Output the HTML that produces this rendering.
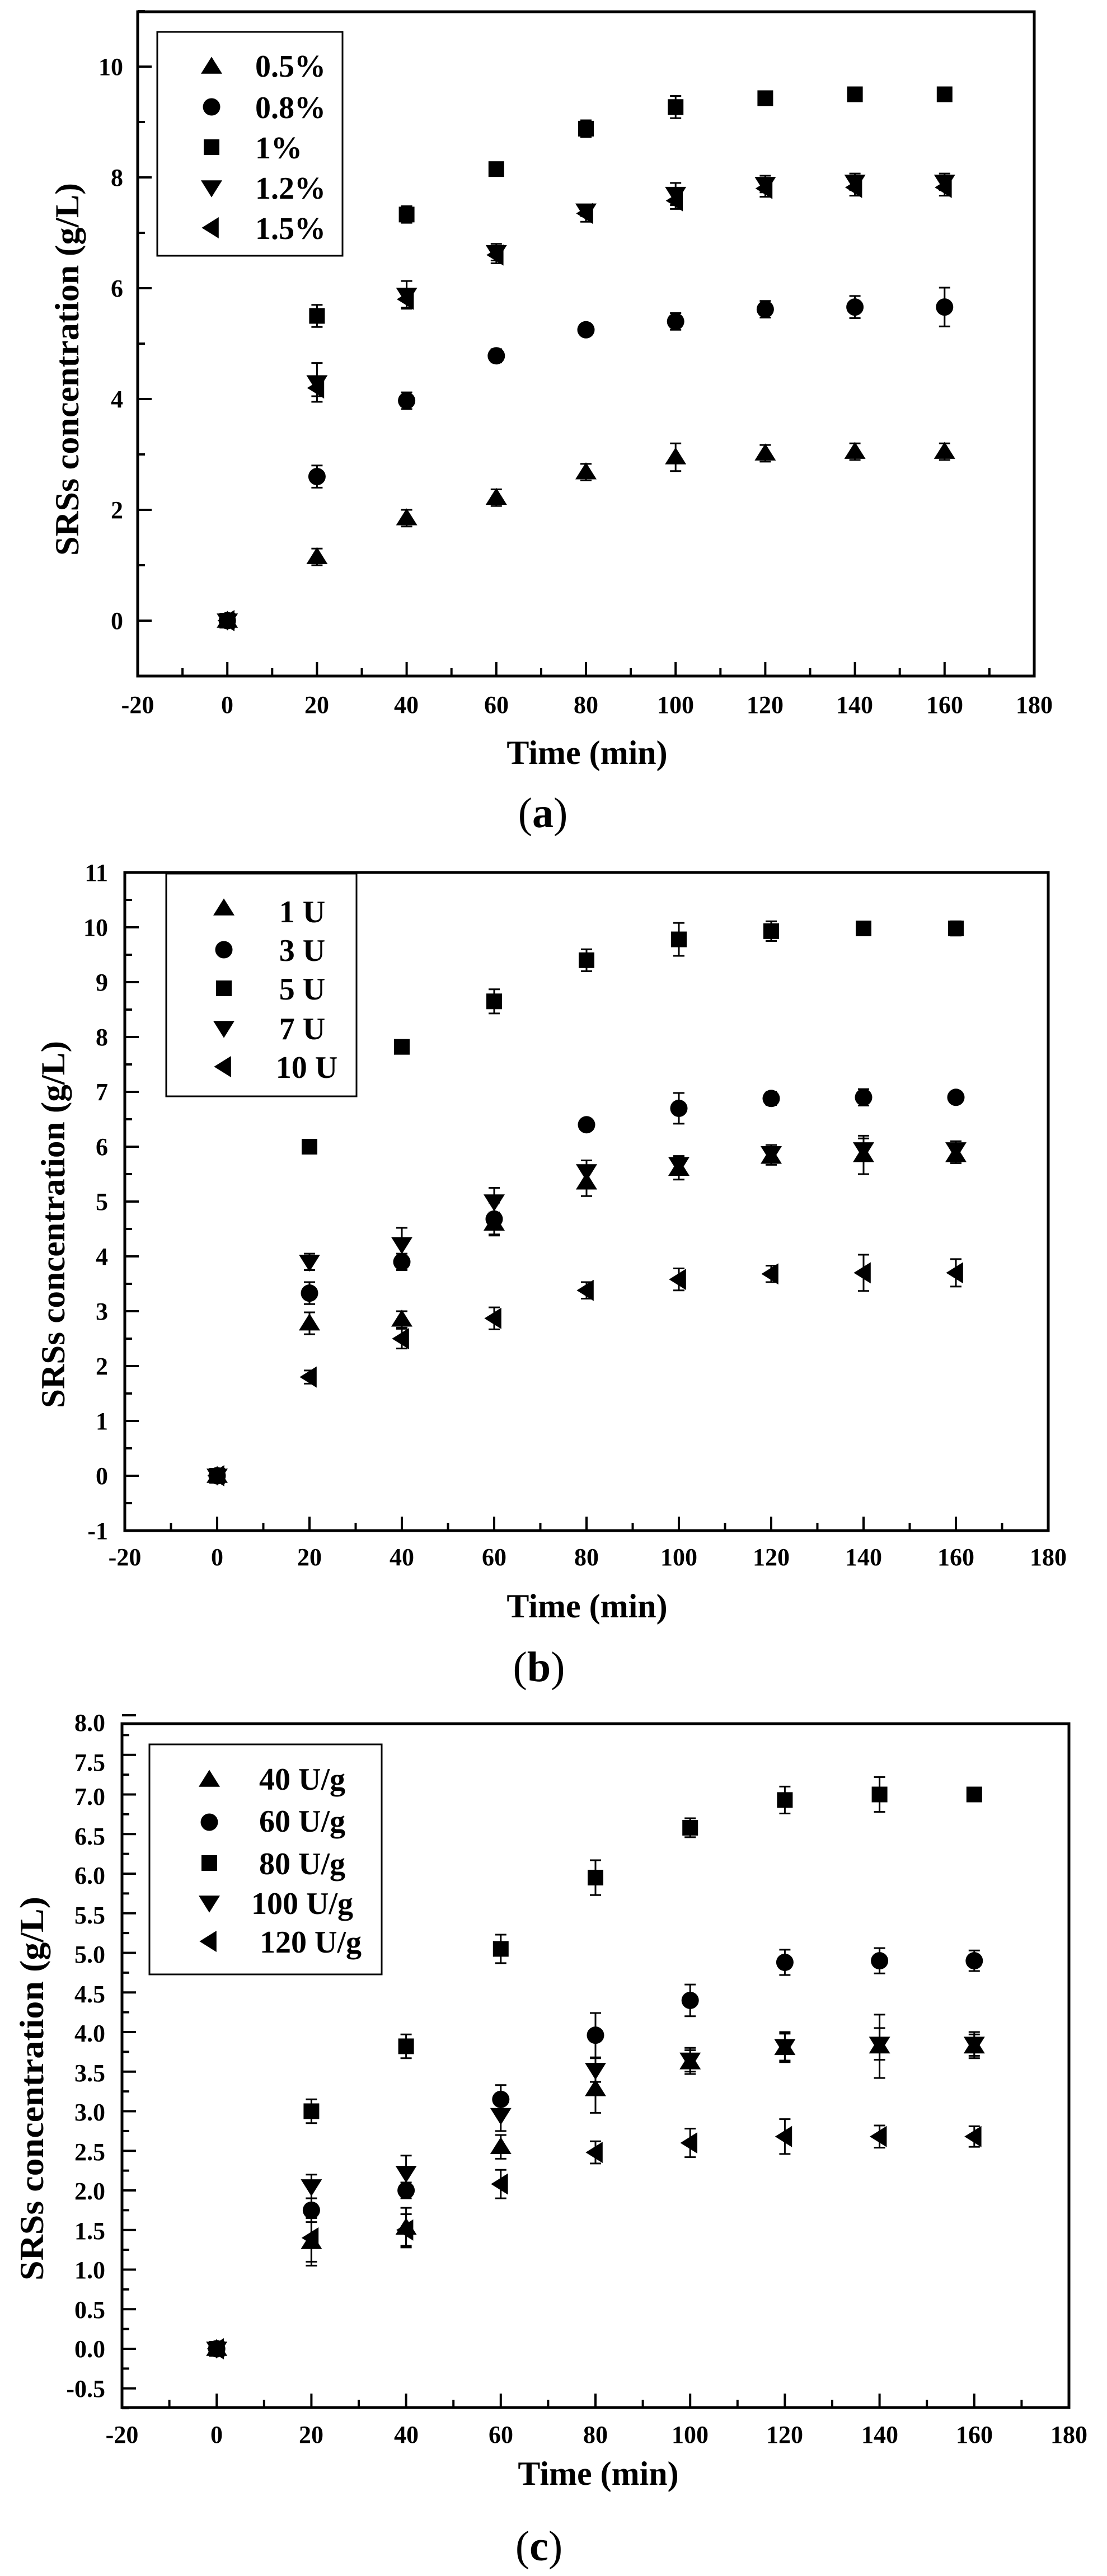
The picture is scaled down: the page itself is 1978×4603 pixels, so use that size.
<!DOCTYPE html>
<html><head><meta charset="utf-8">
<style>
html,body{margin:0;padding:0;background:#fff;}
svg{display:block;}
text{font-family:"Liberation Serif",serif;font-weight:bold;fill:#000;}
.t{font-size:44px;}
.lg{font-size:56px;}
.ax{font-size:60px;}
.cap{font-size:76px;font-weight:normal;}
</style></head>
<body>
<svg id="s" width="1978" height="4603" viewBox="0 0 1978 4603" xmlns="http://www.w3.org/2000/svg">
<rect width="1978" height="4603" fill="#fff"/>
<g id="plots"></g>

<!-- Panel a texts -->
<g class="t" text-anchor="end">
<text x="220" y="1124">0</text><text x="220" y="926">2</text><text x="220" y="728">4</text>
<text x="220" y="530">6</text><text x="220" y="332">8</text><text x="220" y="134">10</text>
</g>
<g class="t" text-anchor="middle">
<text x="246" y="1274">-20</text><text x="406" y="1274">0</text><text x="566" y="1274">20</text>
<text x="726" y="1274">40</text><text x="887" y="1274">60</text><text x="1047" y="1274">80</text>
<text x="1207" y="1274">100</text><text x="1367" y="1274">120</text><text x="1527" y="1274">140</text>
<text x="1688" y="1274">160</text><text x="1848" y="1274">180</text>
</g>
<text class="ax" x="1049" y="1365" text-anchor="middle">Time (min)</text>
<text class="ax" transform="translate(140,660) rotate(-90)" text-anchor="middle" textLength="666" lengthAdjust="spacingAndGlyphs">SRSs concentration (g/L)</text>
<text class="cap" x="970" y="1478" text-anchor="middle">(<tspan font-weight="bold">a</tspan>)</text>
<g class="lg">
<text x="456" y="137">0.5%</text><text x="456" y="211">0.8%</text><text x="456" y="283">1%</text>
<text x="456" y="355">1.2%</text><text x="456" y="427">1.5%</text>
</g>

<!-- Panel b texts -->
<g class="t" text-anchor="end">
<text x="193" y="2750">-1</text><text x="193" y="2652">0</text><text x="193" y="2554">1</text>
<text x="193" y="2456">2</text><text x="193" y="2358">3</text><text x="193" y="2260">4</text>
<text x="193" y="2162">5</text><text x="193" y="2064">6</text><text x="193" y="1966">7</text>
<text x="193" y="1868">8</text><text x="193" y="1770">9</text><text x="193" y="1672">10</text>
<text x="193" y="1574">11</text>
</g>
<g class="t" text-anchor="middle">
<text x="223" y="2797">-20</text><text x="388" y="2797">0</text><text x="553" y="2797">20</text>
<text x="718" y="2797">40</text><text x="883" y="2797">60</text><text x="1048" y="2797">80</text>
<text x="1213" y="2797">100</text><text x="1378" y="2797">120</text><text x="1543" y="2797">140</text>
<text x="1708" y="2797">160</text><text x="1873" y="2797">180</text>
</g>
<text class="ax" x="1049" y="2890" text-anchor="middle">Time (min)</text>
<text class="ax" transform="translate(115,2188) rotate(-90)" text-anchor="middle" textLength="656" lengthAdjust="spacingAndGlyphs">SRSs concentration (g/L)</text>
<text class="cap" x="963" y="3004" text-anchor="middle">(<tspan font-weight="bold">b</tspan>)</text>
<g class="lg" text-anchor="middle">
<text x="540" y="1648">1 U</text><text x="540" y="1717">3 U</text><text x="540" y="1786">5 U</text>
<text x="540" y="1857">7 U</text><text x="548" y="1926">10 U</text>
</g>

<!-- Panel c texts -->
<g class="t" text-anchor="end">
<text x="188" y="4283">-0.5</text><text x="188" y="4212">0.0</text><text x="188" y="4142">0.5</text>
<text x="188" y="4071">1.0</text><text x="188" y="4001">1.5</text><text x="188" y="3930">2.0</text>
<text x="188" y="3860">2.5</text><text x="188" y="3789">3.0</text><text x="188" y="3719">3.5</text>
<text x="188" y="3648">4.0</text><text x="188" y="3578">4.5</text><text x="188" y="3507">5.0</text>
<text x="188" y="3437">5.5</text><text x="188" y="3366">6.0</text><text x="188" y="3296">6.5</text>
<text x="188" y="3225">7.0</text><text x="188" y="3164">7.5</text><text x="188" y="3093">8.0</text>
</g>
<g class="t" text-anchor="middle">
<text x="218" y="4365">-20</text><text x="387" y="4365">0</text><text x="556" y="4365">20</text>
<text x="726" y="4365">40</text><text x="895" y="4365">60</text><text x="1064" y="4365">80</text>
<text x="1233" y="4365">100</text><text x="1402" y="4365">120</text><text x="1572" y="4365">140</text>
<text x="1741" y="4365">160</text><text x="1910" y="4365">180</text>
</g>
<text class="ax" x="1069" y="4440" text-anchor="middle">Time (min)</text>
<text class="ax" transform="translate(77,3732) rotate(-90)" text-anchor="middle" textLength="686" lengthAdjust="spacingAndGlyphs">SRSs concentration (g/L)</text>
<text class="cap" x="963" y="4575" text-anchor="middle">(<tspan font-weight="bold">c</tspan>)</text>
<g class="lg" text-anchor="middle">
<text x="540" y="3198">40 U/g</text><text x="540" y="3273">60 U/g</text><text x="540" y="3349">80 U/g</text>
<text x="540" y="3420">100 U/g</text><text x="555" y="3489">120 U/g</text>
</g>
</svg>
<script>
(function(){
var NS="http://www.w3.org/2000/svg",G=document.getElementById('plots');
function el(t,a){var e=document.createElementNS(NS,t);for(var k in a)e.setAttribute(k,a[k]);G.appendChild(e);return e;}
function marker(type,cx,cy,s){
  s=s||1;
  if(type==='up'){var w=19*s,h=16*s;el('polygon',{points:(cx-w)+','+(cy+h*0.8)+' '+(cx+w)+','+(cy+h*0.8)+' '+cx+','+(cy-h*1.1),fill:'#000'});}
  else if(type==='down'){var w=19*s,h=16*s;el('polygon',{points:(cx-w)+','+(cy-h*0.8)+' '+(cx+w)+','+(cy-h*0.8)+' '+cx+','+(cy+h*1.1),fill:'#000'});}
  else if(type==='left'){var w=16*s,h=19*s;el('polygon',{points:(cx+w*0.8)+','+(cy-h)+' '+(cx+w*0.8)+','+(cy+h)+' '+(cx-w*1.1)+','+cy,fill:'#000'});}
  else if(type==='circ'){el('circle',{cx:cx,cy:cy,r:15.5*s,fill:'#000'});}
  else if(type==='sq'){el('rect',{x:cx-14*s,y:cy-14*s,width:28*s,height:28*s,fill:'#000'});}
}
var types=['up','circ','sq','down','left'];
function panel(P){
  var X=function(v){return P.x0+(v+20)*(P.x1-P.x0)/200;};
  var Y=function(v){return P.y0-v*P.u;};
  for(var v=-10;v<=170;v+=10){var maj=(v%20===0);var x=X(v);el('line',{x1:x,x2:x,y1:P.yb,y2:P.yb-(maj?25:14),stroke:'#000','stroke-width':4});}
  for(var i=0;i<P.yt.length;i++){var t=P.yt[i];var y=Y(t[0]);el('line',{x1:P.x0,x2:P.x0+(t[1]?25:13),y1:y,y2:y,stroke:'#000','stroke-width':4});}
  el('rect',{x:P.x0,y:P.yt0,width:P.x1-P.x0,height:P.yb-P.yt0,fill:'none',stroke:'#000','stroke-width':5});
  el('rect',{x:P.L[0],y:P.L[1],width:P.L[2]-P.L[0],height:P.L[3]-P.L[1],fill:'none',stroke:'#000','stroke-width':3});
  for(var k=0;k<5;k++)marker(types[k],P.mx,P.rows[k],1);
  var xs=[0,20,40,60,80,100,120,140,160];
  for(var s=0;s<5;s++){var d=P.d[s];
    for(var j=0;j<9;j++){var v=d[j],e=d[j+9]||0;var x=X(xs[j]),y=Y(v);
      if(e>0){var ya=Y(v+e),yb=Y(v-e);
        el('line',{x1:x,x2:x,y1:ya,y2:yb,stroke:'#000','stroke-width':3});
        el('line',{x1:x-10,x2:x+10,y1:ya,y2:ya,stroke:'#000','stroke-width':3});
        el('line',{x1:x-10,x2:x+10,y1:yb,y2:yb,stroke:'#000','stroke-width':3});}
      marker(types[s],x,y,1);
    }}
}
function yt(a,b,step,majEvery){var r=[];var n=Math.round((b-a)/step);for(var i=0;i<=n;i++){var v=a+i*step;r.push([v,Math.abs(Math.round(v/majEvery)*majEvery-v)<1e-6]);}return r;}
panel({x0:246,x1:1848,y0:1109,u:99,yt0:21,yb:1208,yt:yt(-1,11,1,2),
  L:[281,57,612,457],mx:378,rows:[119,191,263,335,407],
  d:[
   [0,1.15,1.85,2.22,2.68,2.95,3.02,3.05,3.05, 0.08,0.15,0.15,0.15,0.15,0.25,0.15,0.15,0.15],
   [0,2.6,3.97,4.78,5.25,5.4,5.62,5.66,5.66, 0.08,0.2,0.15,0.12,0.1,0.15,0.15,0.2,0.35],
   [0,5.5,7.33,8.15,8.88,9.27,9.43,9.5,9.5, 0.08,0.2,0.15,0.1,0.15,0.2,0.1,0.1,0.1],
   [0,4.3,5.88,6.65,7.4,7.7,7.88,7.92,7.92, 0.08,0.35,0.25,0.15,0.1,0.2,0.15,0.15,0.15],
   [0,4.2,5.8,6.6,7.35,7.58,7.8,7.82,7.82, 0.08,0.15,0.15,0.15,0.15,0.15,0.15,0.15,0.15]]});
panel({x0:223,x1:1873,y0:2637,u:98,yt0:1559,yb:2735,yt:yt(-1,11,0.5,1),
  L:[297,1561,637,1959],mx:400,rows:[1623,1697,1766,1837,1906],
  d:[
   [0,2.78,2.85,4.6,5.35,5.6,5.82,5.85,5.85, 0.08,0.2,0.15,0.2,0.25,0.2,0.15,0.35,0.15],
   [0,3.33,3.9,4.68,6.4,6.7,6.88,6.9,6.9, 0.08,0.2,0.15,0.3,0.1,0.28,0.12,0.15,0.1],
   [0,6.0,7.82,8.65,9.4,9.78,9.93,9.98,9.98, 0.08,0,0,0.22,0.2,0.3,0.18,0.08,0.13],
   [0,3.9,4.22,5.0,5.55,5.68,5.88,5.95,5.95, 0.08,0.15,0.3,0.25,0.2,0.15,0.15,0.2,0.15],
   [0,1.8,2.5,2.87,3.38,3.58,3.68,3.7,3.7, 0.08,0.12,0.18,0.2,0.15,0.2,0.15,0.33,0.25]]});
panel({x0:218,x1:1910,y0:4197,u:141.5,yt0:3080,yb:4302,yt:yt(-0.75,8,0.25,0.5),
  L:[267,3117,682,3528],mx:374,rows:[3180,3256,3329,3400,3469],
  d:[
   [0,1.35,1.53,2.55,3.28,3.62,3.8,3.82,3.82, 0.06,0.3,0.25,0.15,0.3,0.15,0.18,0.4,0.15],
   [0,1.75,2.0,3.15,3.96,4.4,4.88,4.9,4.9, 0.06,0.15,0.1,0.18,0.28,0.2,0.16,0.16,0.13],
   [0,3.0,3.82,5.05,5.95,6.58,6.93,7.0,7.0, 0.06,0.15,0.15,0.18,0.22,0.12,0.17,0.22,0],
   [0,2.05,2.22,2.95,3.52,3.65,3.82,3.85,3.85, 0.06,0.15,0.22,0.2,0.15,0.15,0.18,0.2,0.15],
   [0,1.4,1.5,2.08,2.48,2.6,2.68,2.68,2.68, 0.06,0.3,0.2,0.18,0.14,0.18,0.22,0.14,0.13]]});
})();
</script>
</body></html>
